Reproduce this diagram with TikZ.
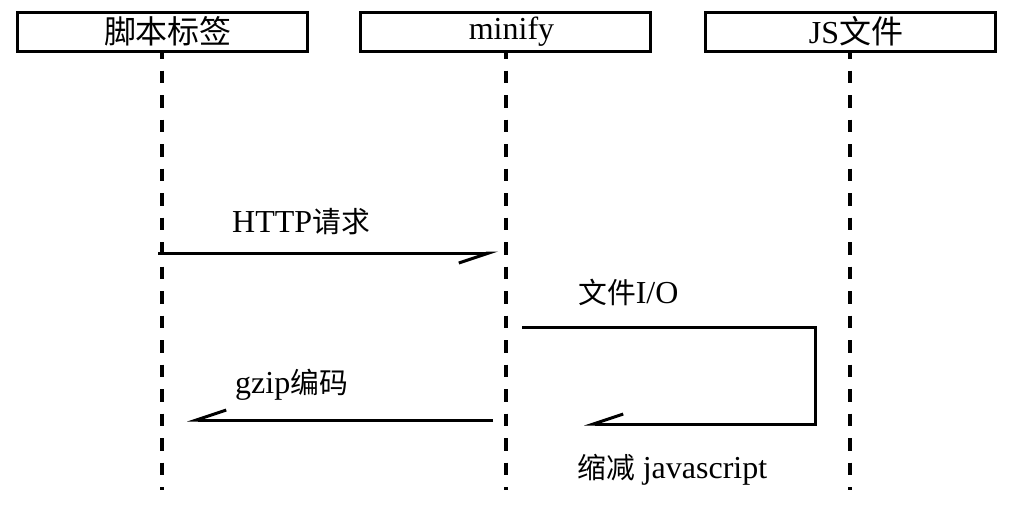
\documentclass[tikz,border=0pt]{standalone}
\usepackage{fontspec}
\setmainfont{Liberation Serif}
\newfontfamily\cjk{Noto Sans CJK SC}[Scale=0.9]
\newfontfamily\cjkbox{Noto Sans CJK SC}[Scale=1.0]
\usetikzlibrary{arrows.meta}

\begin{document}
\begin{tikzpicture}[x=1pt, y=-1pt, font=\fontsize{32}{38}\selectfont,
  actor/.style={draw, line width=3pt, minimum width=290pt, minimum height=39pt, inner sep=0pt,
    execute at begin node=\hspace*{12pt}},
  life/.style={line width=4pt, dash pattern=on 12.5pt off 12pt, dash phase=6.4pt},
  msg/.style={line width=3pt, line join=miter, -{Straight Barb[right, length=30pt, width=20pt, line width=3pt]}},
  lbl/.style={anchor=base west, inner sep=0pt}]
\useasboundingbox (0,0) rectangle (1021,507);
\node[actor] (act0) at (162,31.5){{\cjkbox 脚本标签}};
\node[actor] (act1) at (505.5,31.5){minify};
\node[actor] (act2) at (850,31.5){JS{\cjkbox 文件}};
\coordinate (end0) at (162,490);
\coordinate (end1) at (505.5,490);
\coordinate (end2) at (850,490);
\draw[life](act0.south) -- (end0);
\draw[life](act1.south) -- (end1);
\draw[life](act2.south) -- (end2);
% HTTP
\coordinate (http0) at (158,253);
\coordinate (http1) at (498,253);
\draw[msg](http0) -- (http1);
\node[lbl] (lhttp) at (232,232){HTTP{\cjk 请求}};
% file I/O loop
\coordinate (io0) at (522,327.5);
\coordinate (io1) at (815,327.5);
\coordinate (io2) at (815,424);
\coordinate (io3) at (584,424);
\draw[msg](io0) -- (io1) -- (io2) -- (io3);
\node[lbl] (lio) at (578,303){{\cjk 文件}I/O};
\node[lbl] (lmin) at (577,478){{\cjk 缩减} javascript};
% gzip
\coordinate (gz0) at (493,420);
\coordinate (gz1) at (187,420);
\draw[msg](gz0) -- (gz1);
\node[lbl] (lgz) at (235,393){gzip{\cjk 编码}};
\end{tikzpicture}
\end{document}
